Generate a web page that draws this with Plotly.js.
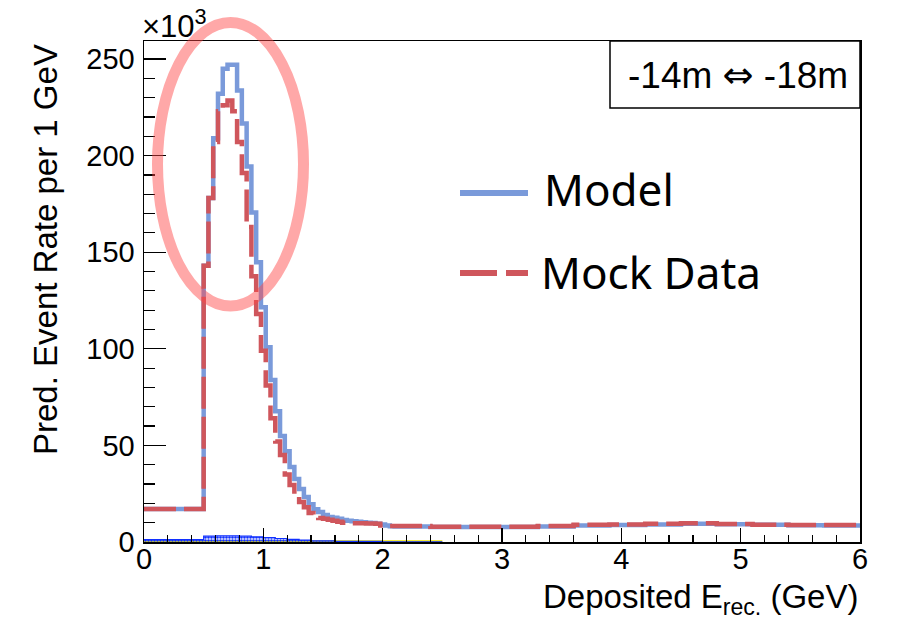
<!DOCTYPE html>
<html>
<head>
<meta charset="utf-8">
<script src="https://cdn.plot.ly/plotly-3.0.1.min.js"></script>
<style>html,body{margin:0;padding:0;background:#fff;}#chart{width:897px;height:622px;}</style>
</head>
<body>
<div id="chart"></div>
<script>
// ---- data (values in units of 10^3 events per 1 GeV) ----
const lowBinEdge = [0, 0.5];             // first wide bin 0 - 0.5 GeV
const lowBinModel = [17.1];
const lowBinMock = [17.1];

const fineStart = 0.5;                    // fine bins of 0.04 GeV from 0.5 to 2.1 GeV
const fineWidth = 0.04;
const fineModel = [143, 178, 209, 232, 245, 247, 247, 233.7, 216.6, 194.4,
                   170.6, 144.8, 121.5, 100.8, 83.8, 67.7, 54.8, 47, 38.8, 32.6,
                   27.4, 23.3, 19.6, 17, 15.5, 14, 12.9, 12.5, 12, 11.4,
                   11, 10.8, 10.5, 10.2, 10, 9.8, 9.5, 9.0, 8.5, 8.2];
const fineMock  = [143, 178, 207, 223, 226, 228.5, 223, 207, 191, 163,
                   137.5, 118, 99, 81, 64, 52, 45, 35, 29.5, 24.3,
                   20.7, 18, 15, 13.5, 12.4, 12, 11.5, 11, 10.5, 10,
                   9.8, 9.7, 9.7, 9.7, 9.6, 9.6, 9.5, 8.6, 8.4, 8.3];

const tailEdges = [2.1, 2.4, 2.7, 3.0, 3.3, 3.6, 3.9, 4.2, 4.5, 4.8, 5.1, 5.4, 5.7, 6.0];
const tailModel = [8.0, 7.7, 7.7, 7.8, 8.0, 8.5, 8.8, 9.0, 9.4, 9.2, 8.9, 8.7, 8.6];
const tailMock  = [8.3, 7.9, 7.9, 7.9, 8.3, 8.9, 9.1, 9.5, 9.7, 9.3, 8.9, 8.8, 8.8];

// small background components near zero
const bkgBlueEdges  = [0, 0.5, 0.6, 0.7, 0.8, 0.9, 1.0, 1.1, 1.2, 1.3, 1.4, 1.6, 2.0, 2.5];
const bkgBlueValues = [1.2, 3.0, 3.2, 3.2, 3.0, 2.7, 2.3, 1.8, 1.4, 1.0, 0.6, 0.3, 0.1];
const bkgYellowEdges  = [0, 0.5, 2.5];
const bkgYellowValues = [0.3, 0.3];

const xTickVals = [0, 1, 2, 3, 4, 5, 6];
const yTickVals = [0, 50, 100, 150, 200, 250];

const legendModel = "Model";
const legendMock = "Mock Data";

// ---- build bin edges ----
const fineEdges = [];
for (let i = 0; i <= fineModel.length; i++) fineEdges.push(+(fineStart + i * fineWidth).toFixed(4));
const edges = [lowBinEdge[0]].concat(fineEdges, tailEdges.slice(1));
const model = lowBinModel.concat(fineModel, tailModel);
const mock = lowBinMock.concat(fineMock, tailMock);

function stepY(vals) { return vals.concat([vals[vals.length - 1]]); }

const blueCol = 'rgb(122,154,218)';
const redCol = 'rgb(207,86,92)';
const fam = 'Liberation Sans, Arial, sans-serif';
const axisFont = {family: fam, size: 29, color: '#000'};

const traces = [
  {x: bkgYellowEdges, y: stepY(bkgYellowValues), mode: 'lines', line: {shape: 'hv', color: '#f2e600', width: 2.5}, hoverinfo: 'skip'},
  {x: bkgBlueEdges, y: stepY(bkgBlueValues), mode: 'lines', fill: 'tozeroy',
   fillcolor: 'rgba(0,0,0,0)',
   fillpattern: {shape: '.', fgcolor: '#1030ff', bgcolor: 'rgba(255,255,255,0)', size: 3, solidity: 0.6},
   line: {shape: 'hv', color: '#1030ff', width: 1.2}, hoverinfo: 'skip'},
  {x: edges, y: stepY(model), mode: 'lines', name: legendModel, line: {shape: 'hv', color: blueCol, width: 4.5}},
  {x: edges, y: stepY(mock), mode: 'lines', name: legendMock, line: {shape: 'hv', color: redCol, width: 4.5, dash: '32px,8px'}}
];

const P = (px) => (px - 144) / 716;       // helper: pixel x -> paper x
const Q = (py) => (542 - py) / 501;       // helper: pixel y -> paper y

const layout = {
  width: 897, height: 622,
  margin: {l: 144, r: 37, t: 41, b: 80},
  paper_bgcolor: '#fff', plot_bgcolor: '#fff',
  showlegend: false,
  xaxis: {
    range: [0, 6], tickvals: xTickVals, ticks: 'inside', ticklen: 14, tickwidth: 1.2, tickcolor: '#000',
    minor: {dtick: 0.2, ticks: 'inside', ticklen: 7, tickwidth: 1.2, tickcolor: '#000'},
    showline: true, linecolor: '#000', linewidth: 1.5, mirror: true,
    showgrid: false, zeroline: false, tickfont: axisFont, ticklabelstandoff: -9
  },
  yaxis: {
    range: [0, 259.3], tickvals: yTickVals, ticks: 'inside', ticklen: 22, tickwidth: 1.2, tickcolor: '#000',
    minor: {dtick: 10, ticks: 'inside', ticklen: 11, tickwidth: 1.2, tickcolor: '#000'},
    showline: true, linecolor: '#000', linewidth: 1.5, mirror: true,
    showgrid: false, zeroline: false, tickfont: axisFont, ticklabelstandoff: 2
  },
  shapes: [
    {type: 'rect', xref: 'paper', yref: 'paper', x0: P(610), x1: 1, y0: Q(108), y1: 1, line: {color: '#000', width: 1.5}, fillcolor: '#fff', layer: 'above'},
    {type: 'line', xref: 'paper', yref: 'paper', x0: P(460), x1: P(528), y0: Q(193), y1: Q(193), line: {color: blueCol, width: 6}},
    {type: 'line', xref: 'paper', yref: 'paper', x0: P(460), x1: P(497), y0: Q(273), y1: Q(273), line: {color: redCol, width: 6}},
    {type: 'line', xref: 'paper', yref: 'paper', x0: P(506), x1: P(528), y0: Q(273), y1: Q(273), line: {color: redCol, width: 6}},
    {type: 'circle', xref: 'paper', yref: 'paper', x0: P(157.5), x1: P(303.5), y0: Q(306), y1: Q(22.5), line: {color: 'rgba(255,70,70,0.47)', width: 11}, fillcolor: 'rgba(0,0,0,0)', layer: 'above'}
  ],
  annotations: [
    {xref: 'paper', yref: 'paper', x: 0, y: 1, xanchor: 'left', yanchor: 'bottom', xshift: -4, yshift: -5, showarrow: false,
     text: '\u00D710<sup>3</sup>', font: {family: fam, size: 31, color: '#000'}},
    {xref: 'paper', yref: 'paper', x: P(45), y: Q(250), xanchor: 'center', yanchor: 'middle', textangle: -90, showarrow: false,
     text: 'Pred. Event Rate per 1 GeV', font: {family: fam, size: 33, color: '#000'}},
    {xref: 'paper', yref: 'paper', x: 1, y: Q(599), xanchor: 'right', yanchor: 'middle', showarrow: false,
     text: 'Deposited E<sub>rec.</sub> (GeV)', font: {family: fam, size: 33, color: '#000'}},
    {xref: 'paper', yref: 'paper', x: P(738), y: Q(76), xanchor: 'center', yanchor: 'middle', showarrow: false,
     text: '-14m <span style="font-family:DejaVu Sans">\u21D4</span> -18m', font: {family: fam, size: 37, color: '#000'}},
    {xref: 'paper', yref: 'paper', x: P(542), y: Q(189), xanchor: 'left', yanchor: 'middle', showarrow: false,
     text: legendModel, font: {family: 'Noto Sans, Open Sans, sans-serif', size: 44, color: '#000'}},
    {xref: 'paper', yref: 'paper', x: P(539), y: Q(272), xanchor: 'left', yanchor: 'middle', showarrow: false,
     text: legendMock, font: {family: 'Noto Sans, Open Sans, sans-serif', size: 44, color: '#000'}}
  ]
};

Plotly.newPlot('chart', traces, layout, {displayModeBar: false, staticPlot: true});
</script>
</body>
</html>
